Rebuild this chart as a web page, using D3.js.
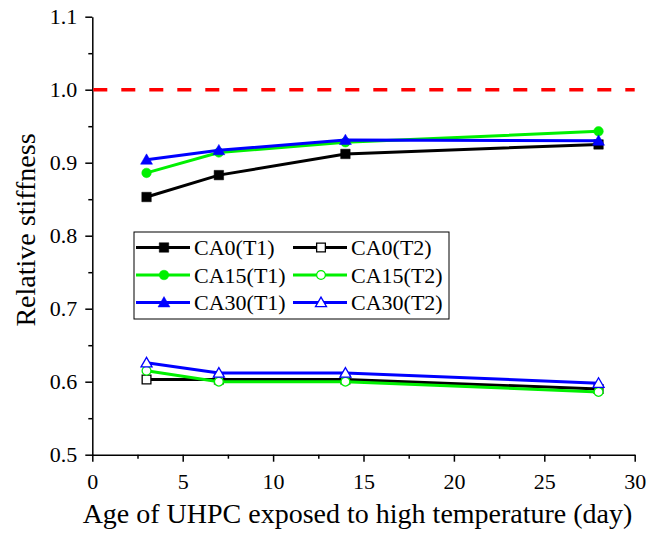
<!DOCTYPE html>
<html>
<head>
<meta charset="utf-8">
<style>
body { margin: 0; background: #fff; }
.axis path, .axis line { stroke: #000; stroke-width: 1.5px; }
</style>
<script src="https://cdn.jsdelivr.net/npm/d3@7"></script>
</head>
<body>
<div id="THE_CONTAINER"></div>
<script>

// data
const days = [3, 7, 14, 28];
const ca0T1 = [0.853, 0.883, 0.912, 0.925];
const ca15T1 = [0.886, 0.914, 0.928, 0.943];
const ca30T1 = [0.904, 0.917, 0.931, 0.930];
const ca0T2 = [0.603, 0.603, 0.603, 0.590];
const ca15T2 = [0.615, 0.600, 0.600, 0.586];
const ca30T2 = [0.626, 0.612, 0.612, 0.598];
const xTicks = [0, 5, 10, 15, 20, 25, 30];
const yTicks = [0.5, 0.6, 0.7, 0.8, 0.9, 1.0, 1.1];
const refLine = 1.0;

const FONT = '"Liberation Serif"';

const series = [
    { name: "CA0(T1)", values: ca0T1, color: "#000000", shape: "square", filled: true },
    { name: "CA0(T2)", values: ca0T2, color: "#000000", shape: "square", filled: false },
    { name: "CA15(T1)", values: ca15T1, color: "#00f000", shape: "circle", filled: true },
    { name: "CA15(T2)", values: ca15T2, color: "#00f000", shape: "circle", filled: false },
    { name: "CA30(T1)", values: ca30T1, color: "#0000ff", shape: "triangle", filled: true },
    { name: "CA30(T2)", values: ca30T2, color: "#0000ff", shape: "triangle", filled: false }
];

const W = 648, H = 542;
const svg = d3.select("#THE_CONTAINER").append("svg")
    .attr("width", W).attr("height", H);

const x = d3.scaleLinear().domain([0, 30]).range([92.3, 634.7]);
const y = d3.scaleLinear().domain([0.5, 1.1]).range([454.7, 16.7]);

// minor ticks
svg.append("g").attr("class", "axis")
    .attr("transform", `translate(0,${y(0.5)})`)
    .call(d3.axisBottom(x).tickValues(d3.range(2.5, 30, 5)).tickSize(4).tickFormat(""))
    .select(".domain").remove();
svg.append("g").attr("class", "axis")
    .attr("transform", `translate(${x(0)},0)`)
    .call(d3.axisLeft(y).tickValues(d3.range(0.55, 1.1, 0.1)).tickSize(4).tickFormat(""))
    .select(".domain").remove();

// major axes
svg.append("g").attr("class", "axis")
    .attr("transform", `translate(0,${y(0.5)})`)
    .call(d3.axisBottom(x).tickValues(xTicks).tickSize(7).tickSizeOuter(0).tickPadding(12).tickFormat(d3.format("d")))
    .selectAll("text").style("font-size", "22px");
svg.append("g").attr("class", "axis")
    .attr("transform", `translate(${x(0)},0)`)
    .call(d3.axisLeft(y).tickValues(yTicks).tickSize(7).tickSizeOuter(0).tickPadding(8).tickFormat(d3.format(".1f")))
    .selectAll("text").style("font-size", "22px");

// reference line
svg.append("line")
    .attr("x1", x(0) + 1).attr("x2", x(30))
    .attr("y1", y(refLine)).attr("y2", y(refLine))
    .attr("stroke", "#ff0000").attr("stroke-width", 3.5)
    .attr("stroke-dasharray", "14,14");

const symbolFor = s => s === "square" ? d3.symbolSquare : s === "circle" ? d3.symbolCircle : d3.symbolTriangle;
const sizeFor = s => s === "square" ? 90 : s === "circle" ? 72 : 62;

function drawMarker(g, s, cx, cy) {
    g.append("path")
        .attr("d", d3.symbol().type(symbolFor(s.shape)).size(sizeFor(s.shape) * (s.filled ? 1 : 0.85))())
        .attr("transform", `translate(${cx},${cy + (s.shape === "triangle" ? 1 : 0)})`)
        .attr("fill", s.filled ? s.color : "#fff")
        .attr("stroke", s.color)
        .attr("stroke-width", s.filled ? 0.5 : 1.3);
}

const line = d3.line().x(d => x(d[0])).y(d => y(d[1]));
const drawOrder = [1, 3, 5, 0, 2, 4];
drawOrder.forEach(i => {
    const s = series[i];
    const pts = days.map((d, j) => [d, s.values[j]]);
    const g = svg.append("g");
    g.append("path").datum(pts)
        .attr("d", line).attr("fill", "none")
        .attr("stroke", s.color).attr("stroke-width", 3);
    pts.forEach(p => drawMarker(g, s, x(p[0]), y(p[1])));
});

// legend
const lg = svg.append("g").attr("transform", "translate(134,232)");
lg.append("rect").attr("width", 315).attr("height", 87)
    .attr("fill", "#fff").attr("stroke", "#000").attr("stroke-width", 1);
series.forEach((s, i) => {
    const col = i % 2, row = Math.floor(i / 2);
    const ox = col === 0 ? 2 : 159;
    const oy = 15.5 + row * 27.5;
    const g = lg.append("g");
    g.append("line").attr("x1", ox).attr("x2", ox + 54)
        .attr("y1", oy).attr("y2", oy)
        .attr("stroke", s.color).attr("stroke-width", 3);
    drawMarker(g, s, ox + 28, oy);
    g.append("text")
        .attr("x", ox + 58).attr("y", oy).attr("dy", "0.35em")
        .style("font-size", "22px")
        .text(s.name);
});

// titles
svg.append("text")
    .attr("x", (x(0) + x(30)) / 2 - 6).attr("y", 523)
    .attr("text-anchor", "middle")
    .style("font-size", "28px")
    .text("Age of UHPC exposed to high temperature (day)");
svg.append("text")
    .attr("transform", "translate(35,230) rotate(-90)")
    .attr("text-anchor", "middle")
    .style("font-size", "28px")
    .text("Relative stiffness");

svg.selectAll("text").style("font-family", FONT).attr("fill", "#000");

</script>
</body>
</html>
